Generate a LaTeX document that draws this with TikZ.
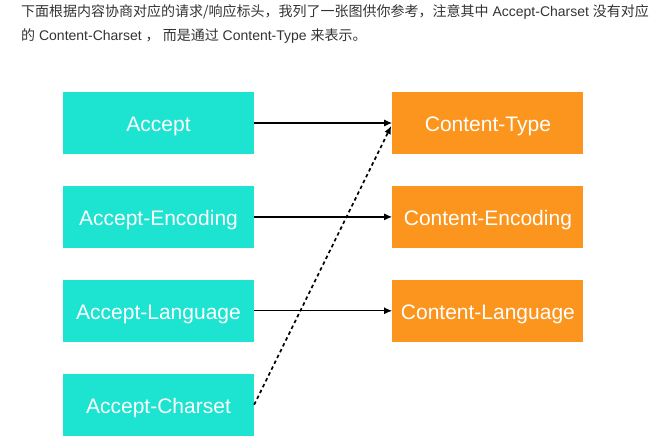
\documentclass[tikz,border=0pt]{standalone}
\usepackage{fontspec}
\setmainfont{Liberation Sans}
\newfontfamily\cjk{Noto Sans CJK SC}
\usetikzlibrary{arrows.meta, positioning}
\definecolor{reqcolor}{HTML}{1DE3D1}
\definecolor{rescolor}{HTML}{FB951E}
\definecolor{notecolor}{HTML}{333333}

\begin{document}
\begin{tikzpicture}[
        x=1pt, y=-1pt,
        node distance=31.5pt and 138pt,
        every node/.style={inner sep=0pt},
        arrow/.style={-{Latex[length=8pt,width=7pt]}, line width=1.3pt}
    ]

    \tikzset{
    reqbox/.style={fill=reqcolor, text=white, minimum width=191pt, minimum height=62pt, text height=17pt, text depth=0pt, font=\fontsize{21}{25}\selectfont},
    resbox/.style={reqbox, fill=rescolor},
    known/.style={arrow, line width=1.7pt, dash pattern=on 3.5pt off 3pt},
    note/.style={anchor=west, text=notecolor, font=\fontsize{14}{17}\selectfont}
}

    \useasboundingbox (0,0) rectangle (665,447);

    \node[note] (line1) at (21,12.5) {{\cjk 下面根据内容协商对应的请求/响应标头，我列了一张图供你参考，注意其中} Accept-Charset {\cjk 没有对应}};
    \node[note] (line2) at (21,36) {{\cjk 的} Content-Charset {\cjk ，\ 而是通过} Content-Type {\cjk 来表示。}};

    \node[reqbox] (accept) at (158.5,123) {Accept};
    \node[reqbox] (encoding) [below=of accept] {Accept-Encoding};
    \node[reqbox] (language) [below=of encoding] {Accept-Language};
    \node[reqbox] (charset) [below=of language] {Accept-Charset};

    \node[resbox] (type) [right=of accept] {Content-Type};
    \node[resbox] (cencoding) [right=of encoding] {Content-Encoding};
    \node[resbox] (clanguage) [right=of language] {Content-Language};

    \draw[arrow] (accept) -- (type);
    \draw[arrow] (encoding) -- (cencoding);
    \draw[arrow] (language) -- (clanguage);

    \draw[known] (charset.east) -- ([xshift=-1pt, yshift=-3pt]type.west);
    \end{tikzpicture}
\end{document}
